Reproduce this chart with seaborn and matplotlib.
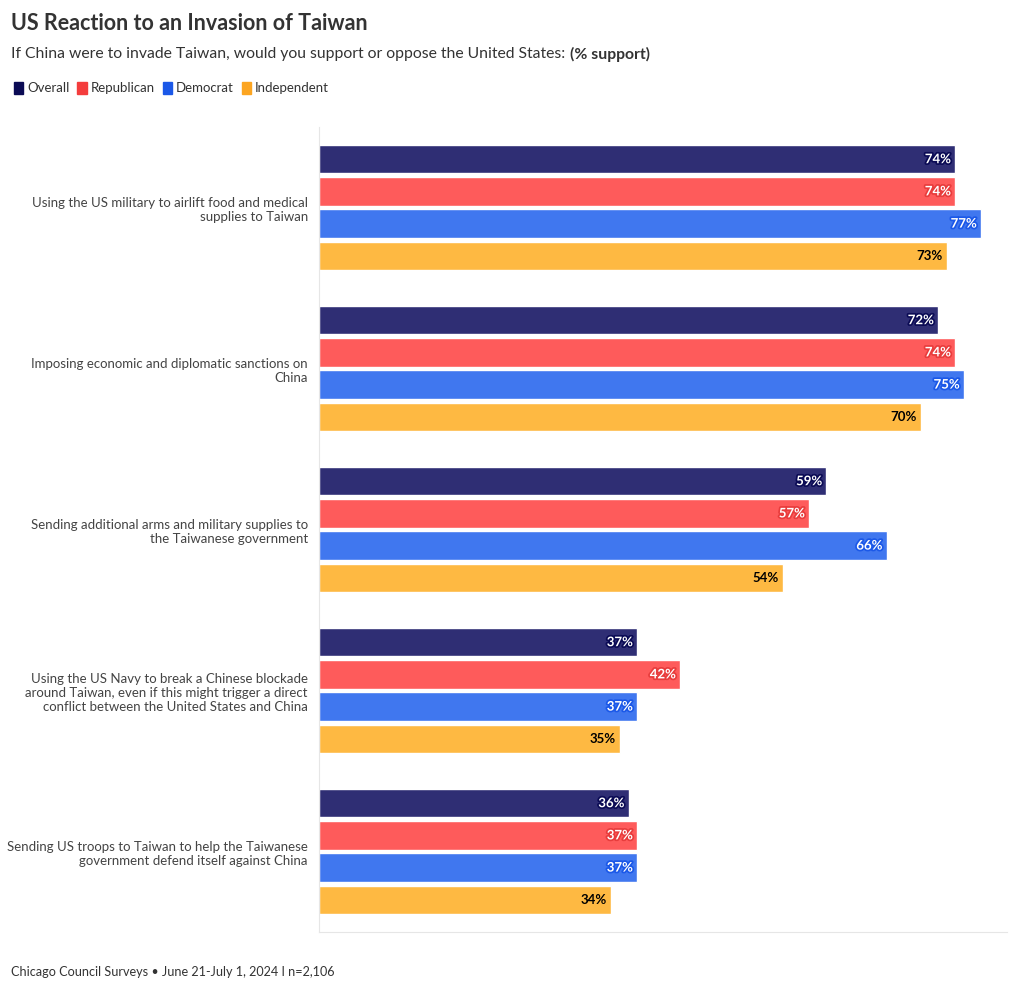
import matplotlib
matplotlib.use("Agg")
import matplotlib.pyplot as plt
import matplotlib.patheffects as pe
from matplotlib.patches import Patch
import seaborn as sns
import pandas as pd

categories = [
    "Using the US military to airlift food and medical\nsupplies to Taiwan",
    "Imposing economic and diplomatic sanctions on\nChina",
    "Sending additional arms and military supplies to\nthe Taiwanese government",
    "Using the US Navy to break a Chinese blockade\naround Taiwan, even if this might trigger a direct\nconflict between the United States and China",
    "Sending US troops to Taiwan to help the Taiwanese\ngovernment defend itself against China",
]
groups = ["Overall", "Republican", "Democrat", "Independent"]
overall = [74, 72, 59, 37, 36]
republican = [74, 74, 57, 42, 37]
democrat = [77, 75, 66, 37, 37]
independent = [73, 70, 54, 35, 34]

bar_colors = ["#2f2e74", "#fe5b5b", "#4077ef", "#feb942"]
legend_colors = ["#0b0b55", "#f43d3d", "#1b58e8", "#fca521"]
label_colors = ["white", "white", "white", "black"]
stroke_colors = ["#0b0b55", "#e83c3c", "#1b58e8", None]

rows = []
for g, vals in zip(groups, [overall, republican, democrat, independent]):
    for c, v in zip(categories, vals):
        rows.append({"category": c, "group": g, "value": v})
df = pd.DataFrame(rows)

sns.set_theme(style="white")
plt.rcParams["font.family"] = ["Lato", "DejaVu Sans"]

fig = plt.figure(figsize=(10.2, 9.91), dpi=100)
ax = fig.add_axes([319 / 1020, 1 - 932 / 991, (1007 - 319) / 1020, (932 - 127) / 991])

sns.barplot(data=df, y="category", x="value", hue="group", hue_order=groups,
            order=categories, palette=bar_colors, orient="h", gap=0.12,
            width=0.8, legend=False, ax=ax, saturation=1)

ax.set_xlim(0, 80)
ax.set_ylim(4.5, -0.5)
ax.set_xlabel("")
ax.set_ylabel("")
ax.set_xticks([])
ax.tick_params(axis="y", length=0, pad=8, labelsize=9.5, labelcolor="#444444")
for lbl in ax.get_yticklabels():
    lbl.set_horizontalalignment("right")
for s in ["top", "right"]:
    ax.spines[s].set_visible(False)
for s in ["left", "bottom"]:
    ax.spines[s].set_color("#e6e6e6")
    ax.spines[s].set_linewidth(0.8)

for i, cont in enumerate(ax.containers):
    texts = ax.bar_label(cont, labels=[f"{int(v)}%" for v in cont.datavalues],
                         padding=-3, fontsize=9.5, fontweight="bold",
                         color=label_colors[i])
    for t in texts:
        t.set_horizontalalignment("right")
        if stroke_colors[i]:
            t.set_path_effects([pe.withStroke(linewidth=2.5, foreground=stroke_colors[i])])

fig.text(11 / 1020, 1 - 24 / 991, "US Reaction to an Invasion of Taiwan",
         fontsize=15.5, fontweight="bold", color="#333333", va="center", ha="left")
t1 = fig.text(11 / 1020, 1 - 54 / 991,
              "If China were to invade Taiwan, would you support or oppose the United States:",
              fontsize=11.3, color="#333333", va="center", ha="left")
fig.canvas.draw()
bb = t1.get_window_extent(renderer=fig.canvas.get_renderer())
fig.text((bb.x1 + 5) / 1020, 1 - 54 / 991, "(% support)", fontsize=11.3, fontweight="bold",
         color="#333333", va="center", ha="left")

handles = [Patch(facecolor=c, edgecolor=c, label=g) for g, c in zip(groups, legend_colors)]
fig.legend(handles=handles, loc="center left", bbox_to_anchor=(2 / 1020, 1 - 88 / 991),
           ncol=4, frameon=False, fontsize=9.5, handlelength=0.7, handleheight=1.1,
           handletextpad=0.3, columnspacing=0.6, labelcolor="#333333")

fig.text(11 / 1020, 1 - 972 / 991, "Chicago Council Surveys • June 21-July 1, 2024 I n=2,106",
         fontsize=9.1, color="#333333", va="center", ha="left")

fig.savefig("out.png", dpi=100, facecolor="white")
